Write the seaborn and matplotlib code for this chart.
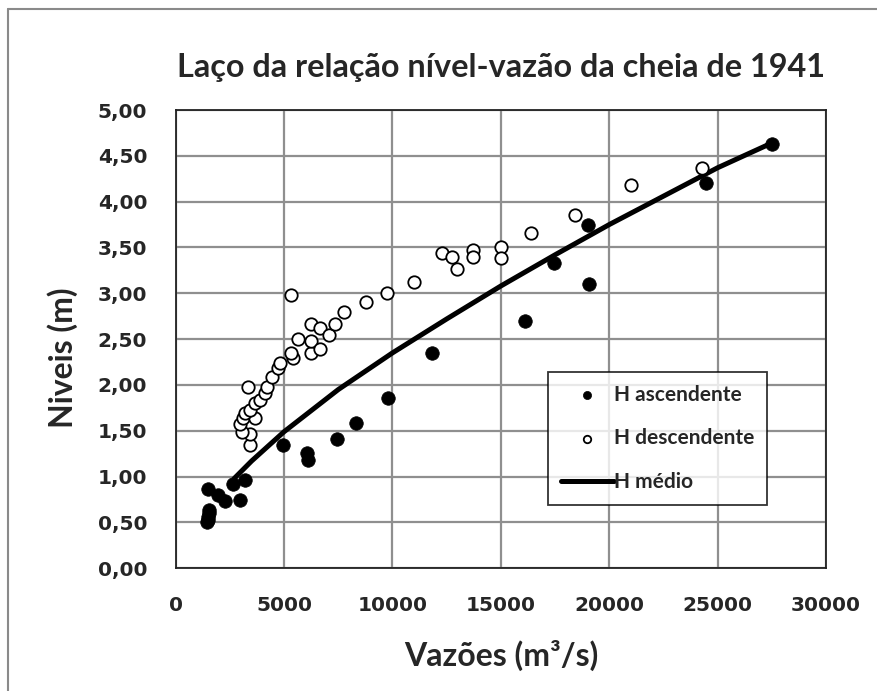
import matplotlib
matplotlib.use("Agg")
import matplotlib.pyplot as plt
from matplotlib.lines import Line2D
import seaborn as sns

# H ascendente (filled points)
asc_q = [1450, 1480, 1500, 1520, 1550, 1505, 1965, 2275, 2660, 2965, 3195,
         4960, 6040, 6115, 7425, 8300, 9805, 11835, 16115, 17465, 19065,
         19030, 24465, 27520]
asc_h = [0.50, 0.53, 0.56, 0.60, 0.64, 0.87, 0.80, 0.73, 0.92, 0.75, 0.96,
         1.35, 1.26, 1.18, 1.41, 1.59, 1.86, 2.35, 2.70, 3.33, 3.10,
         3.75, 4.20, 4.63]

# H descendente (open points)
desc_q = [3430, 3430, 3045, 2965, 3120, 3655, 3195, 3430, 3655, 3890, 4120,
          4200, 3350, 4430, 4700, 4810, 5305, 5425, 5305, 5655, 6225, 6240,
          6240, 6655, 6655, 7085, 7350, 7775, 8780, 9735, 10990, 12270,
          12730, 12990, 13725, 13725, 15005, 15005, 16375, 18420, 20985,
          24290]
desc_h = [1.35, 1.46, 1.49, 1.57, 1.64, 1.64, 1.69, 1.73, 1.80, 1.84, 1.91,
          1.98, 1.98, 2.09, 2.18, 2.24, 2.98, 2.29, 2.35, 2.50, 2.35, 2.48,
          2.67, 2.39, 2.62, 2.54, 2.67, 2.80, 2.90, 3.00, 3.12, 3.44,
          3.40, 3.26, 3.47, 3.40, 3.51, 3.38, 3.66, 3.85, 4.18,
          4.37]

# H medio (curve)
med_q = [2700, 3500, 5000, 7500, 10000, 12500, 15000, 17500, 20000, 22500,
         25000, 27500]
med_h = [0.98, 1.17, 1.49, 1.95, 2.35, 2.72, 3.08, 3.42, 3.75, 4.06,
         4.37, 4.64]

x_ticks = [0, 5000, 10000, 15000, 20000, 25000, 30000]
y_ticks = [0.0, 0.5, 1.0, 1.5, 2.0, 2.5, 3.0, 3.5, 4.0, 4.5, 5.0]
y_labels = [f"{v:.2f}".replace(".", ",") for v in y_ticks]

sns.set_style("white")
narrow = ["Lato", "DejaVu Sans"]

fig = plt.figure(figsize=(8.78, 6.91), dpi=100)
ax = fig.add_axes([0.2001, 0.1776, 0.7407, 0.6632])

ax.grid(True, color="#8f8f8f", linewidth=1.6)
ax.set_axisbelow(True)

sns.lineplot(x=med_q, y=med_h, ax=ax, color="black", linewidth=3.6,
             label="H médio", sort=False, zorder=3)
sns.scatterplot(x=asc_q, y=asc_h, ax=ax, color="black", s=95,
                edgecolor="black", linewidth=0.5, label="H ascendente", zorder=4)
sns.scatterplot(x=desc_q, y=desc_h, ax=ax, facecolor="white", s=80,
                edgecolor="black", linewidth=1.3, label="H descendente", zorder=4)

ax.set_xlim(0, 30000)
ax.set_ylim(0, 5)
tick_font = {"family": "DejaVu Sans", "weight": "bold", "size": 14.5}
ax.set_xticks(x_ticks)
ax.set_yticks(y_ticks)
ax.set_xticklabels([str(t) for t in x_ticks], fontdict=tick_font)
ax.set_yticklabels(y_labels, fontdict=tick_font)
ax.tick_params(axis="both", direction="out", length=7, width=1.2,
               color="#333333")
ax.tick_params(axis="x", pad=13)
ax.tick_params(axis="y", pad=13.5)
for sp in ax.spines.values():
    sp.set_visible(True)
    sp.set_color("#222222")
    sp.set_linewidth(1.3)

ax.set_xlabel("")
ax.set_ylabel("")

# legend in order: ascendente, descendente, medio
handles, labels = ax.get_legend_handles_labels()
order = [labels.index(n) for n in ["H ascendente", "H descendente", "H médio"]]
leg = ax.legend([handles[i] for i in order], [labels[i] for i in order],
                loc="upper left", bbox_to_anchor=(0.5725, 0.4283),
                frameon=True, fancybox=False, edgecolor="black",
                markerscale=0.6, handlelength=2.55, handletextpad=0.0,
                borderpad=0.6, labelspacing=1.14, borderaxespad=0,
                prop={"family": narrow, "weight": "bold", "size": 15})
leg.get_frame().set_linewidth(1.3)

fig.text(0.5706, 1 - 67 / 691, "Laço da relação nível-vazão da cheia de 1941",
         ha="center", va="center", fontsize=23.3, fontweight="bold", family=narrow)
fig.text(0.5706, 1 - 655 / 691, "Vazões (m³/s)", ha="center", va="center",
         fontsize=23, fontweight="bold", family=narrow)
fig.text(63 / 878, 1 - 358 / 691, "Niveis (m)", ha="center", va="center",
         rotation=90, fontsize=23, fontweight="bold", family=narrow)

# outer chart-area border (top and left)
fig.add_artist(Line2D([8 / 878, 1], [1 - 9 / 691, 1 - 9 / 691],
                      transform=fig.transFigure, color="#8a8a8a", linewidth=1.5))
fig.add_artist(Line2D([8 / 878, 8 / 878], [0, 1 - 9 / 691],
                      transform=fig.transFigure, color="#8a8a8a", linewidth=1.5))

fig.savefig("out.png", dpi=100)
